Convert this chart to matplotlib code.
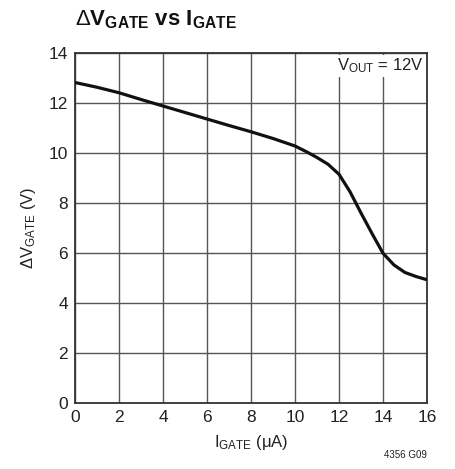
import matplotlib
matplotlib.use("Agg")
import matplotlib.pyplot as plt

plt.rcParams['font.family'] = ['Liberation Sans', 'DejaVu Sans']
plt.rcParams['mathtext.fontset'] = 'custom'
plt.rcParams['mathtext.rm'] = 'Liberation Sans'
plt.rcParams['mathtext.it'] = 'Liberation Sans'
plt.rcParams['mathtext.bf'] = 'Liberation Sans:bold'

# curve
i_gate = [0, 1, 2, 3, 4, 5, 6, 7, 8, 9, 10, 10.5, 11, 11.5, 12, 12.5, 13, 13.5, 14, 14.5, 15, 15.5, 16]
dv_gate = [12.82, 12.63, 12.41, 12.14, 11.88, 11.62, 11.36, 11.10, 10.85, 10.58, 10.28, 10.06, 9.82, 9.55, 9.15, 8.45, 7.60, 6.78, 5.99, 5.52, 5.22, 5.06, 4.93]

x_ticks = [0, 2, 4, 6, 8, 10, 12, 14, 16]
y_ticks = [0, 2, 4, 6, 8, 10, 12, 14]

fig = plt.figure(figsize=(4.56, 4.69), dpi=100)
ax = fig.add_axes([75/456, 1 - 403/469, 352/456, 350/469])

ax.plot(i_gate, dv_gate, color='#111111', lw=2.3, solid_capstyle='butt', zorder=3)

ax.set_xlim(0, 16)
ax.set_ylim(0, 14)
ax.set_xticks(x_ticks)
ax.set_yticks(y_ticks)
ax.tick_params(length=0, labelsize=12.5, pad=5, colors='#222222')
ax.grid(True, color='#555555', lw=1.0)
for s in ax.spines.values():
    s.set_color('#333333')
    s.set_linewidth(1.3)

ax.set_xlabel(r'I$_{\mathrm{GATE}}$ ($\mu$A)', fontsize=12, color='#222222', labelpad=6)
ax.set_ylabel(r'$\Delta$V$_{\mathrm{GATE}}$ (V)', fontsize=12, color='#222222', labelpad=8)

ax.text(15.85, 13.85, r'V$_{\mathrm{OUT}}$ = 12V', ha='right', va='top', fontsize=12,
        color='#222222', zorder=4,
        bbox=dict(facecolor='white', edgecolor='none', pad=1.5))

fig.text(75/456, 1 - 20/469, r'$\Delta\mathbf{V}_{\mathbf{GATE}}$ $\mathbf{vs}$ $\mathbf{I}_{\mathbf{GATE}}$',
         fontsize=16, fontweight='bold', ha='left', va='center', color='#111111')
fig.text(427/456, 1 - 455/469, '4356 G09', fontsize=7, ha='right', va='center', color='#222222')

fig.savefig('out.png', dpi=100)
